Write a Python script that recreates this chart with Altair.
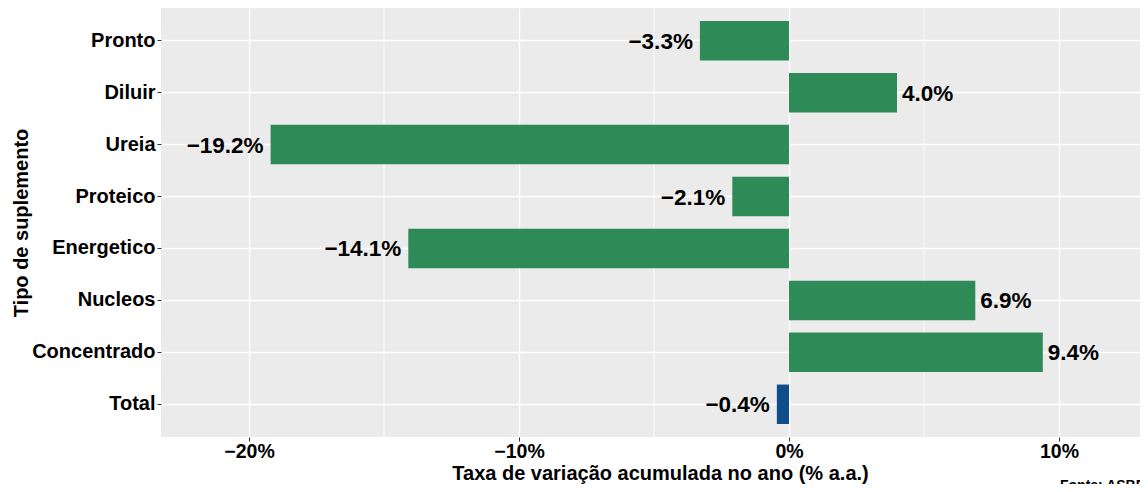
import altair as alt
import pandas as pd

categorias = ["Pronto", "Diluir", "Ureia", "Proteico", "Energetico", "Nucleos", "Concentrado", "Total"]
valores = [-3.3, 4.0, -19.2, -2.1, -14.1, 6.9, 9.4, -0.45]
rotulos = ["−3.3%", "4.0%", "−19.2%", "−2.1%", "−14.1%", "6.9%", "9.4%", "−0.4%"]
grupos = ["Suplemento"] * 7 + ["Total"]
ticks_maiores = [-20, -10, 0, 10]
ticks_menores = [-15, -5, 5]
fonte = ["Fonte: ASBRAM"]

df = pd.DataFrame({"cat": categorias, "val": valores, "rot": rotulos, "grupo": grupos})
df_menor = pd.DataFrame({"v": ticks_menores})
df_fonte = pd.DataFrame({"t": fonte})

FONT = "Liberation Sans"
xscale = alt.Scale(domain=[-23.26, 13.0], nice=False, zero=False)
yscale = alt.Scale(paddingInner=0.24, paddingOuter=0.25)

minor = alt.Chart(df_menor).mark_rule(color="white", strokeWidth=0.8).encode(
    x=alt.X("v:Q", scale=xscale)
)

bars = alt.Chart(df).mark_bar().encode(
    x=alt.X(
        "val:Q",
        scale=xscale,
        axis=alt.Axis(
            values=ticks_maiores,
            labelExpr="datum.value < 0 ? '−' + abs(datum.value) + '%' : datum.value + '%'",
            title="Taxa de variação acumulada no ano (% a.a.)",
            titleX=499,
            titleY=42,
            titleBaseline="alphabetic",
            titleAnchor="middle",
            labelPadding=1,
            labelFontSize=19.5,
        ),
    ),
    y=alt.Y(
        "cat:N",
        sort=categorias,
        scale=yscale,
        axis=alt.Axis(
            title="Tipo de suplemento",
            titleX=-133.5,
            titleY=214.5,
            titleAngle=-90,
            titleAlign="center",
            titleBaseline="alphabetic",
            labelPadding=2,
            labelFontSize=20,
            bandPosition=0.5,
        ),
    ),
    color=alt.Color(
        "grupo:N",
        scale=alt.Scale(domain=["Suplemento", "Total"], range=["#2E8B57", "#104E8B"]),
        legend=None,
    ),
)

txt_neg = alt.Chart(df).transform_filter("datum.val < 0").mark_text(
    align="right", baseline="middle", dx=-7, dy=1, font=FONT, fontSize=22.5, fontWeight="bold", color="black"
).encode(
    x=alt.X("val:Q", scale=xscale),
    y=alt.Y("cat:N", sort=categorias, scale=yscale),
    text="rot:N",
)

txt_pos = alt.Chart(df).transform_filter("datum.val >= 0").mark_text(
    align="left", baseline="middle", dx=5, dy=1, font=FONT, fontSize=22.5, fontWeight="bold", color="black"
).encode(
    x=alt.X("val:Q", scale=xscale),
    y=alt.Y("cat:N", sort=categorias, scale=yscale),
    text="rot:N",
)

caption = alt.Chart(df_fonte).mark_text(
    align="left", baseline="alphabetic", font=FONT, fontSize=14, fontWeight="bold", color="black"
).encode(
    x=alt.value(899),
    y=alt.value(482),
    text="t:N",
)

chart = (
    alt.layer(minor, bars, txt_neg, txt_pos, caption)
    .properties(
        width=979,
        height=429,
        autosize=alt.AutoSizeParams(type="none"),
        padding={"left": 153, "top": 0, "right": 0, "bottom": 47},
        background="white",
    )
    .configure_view(stroke=None, fill="#EBEBEB")
    .configure_axis(
        labelFont=FONT,
        labelFontSize=19,
        labelFontWeight="bold",
        labelColor="black",
        titleFont=FONT,
        titleFontSize=20,
        titleFontWeight="bold",
        titleColor="black",
        tickColor="#333333",
        tickSize=4,
        tickWidth=1,
        domain=False,
        grid=True,
        gridColor="white",
        gridWidth=1.3,
    )
)

chart.save("out.html", embed_options={"renderer": "svg", "actions": False})
